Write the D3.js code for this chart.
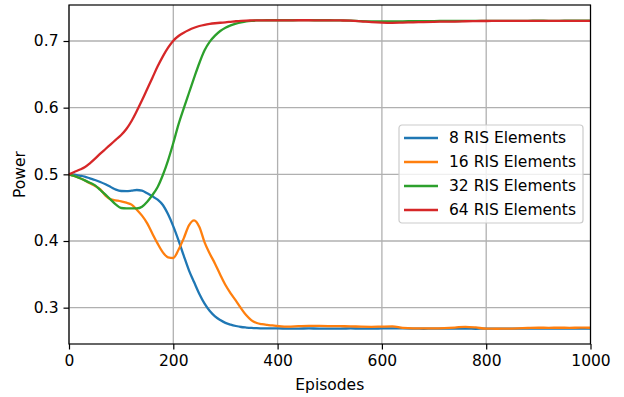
<!DOCTYPE html>
<html>
<head>
<meta charset="utf-8">
<script src="https://cdn.jsdelivr.net/npm/d3@7"></script>
<style>
  body { margin: 0; background: #fff; }
  svg { font-family: 'DejaVu Sans', sans-serif; }
</style>
</head>
<body>
<svg width="624" height="397"></svg>
<script>
// episodes shared by every series (step 10 up to 400, then step 20)
const episodes = d3.range(0, 400, 10).concat(d3.range(400, 1001, 20));

const seriesNames = ['8 RIS Elements', '16 RIS Elements', '32 RIS Elements', '64 RIS Elements'];
const colors = ['#1f77b4', '#ff7f0e', '#2ca02c', '#d62728'];

const ris8 = [
  0.500, 0.4995, 0.498, 0.4965, 0.494, 0.4915, 0.4885, 0.485, 0.481, 0.477,
  0.475, 0.4748, 0.4755, 0.4765, 0.4755, 0.4715, 0.467, 0.462, 0.454, 0.440,
  0.422, 0.401, 0.378, 0.356, 0.338, 0.3205, 0.306, 0.295, 0.287, 0.2815,
  0.2772, 0.2745, 0.2725, 0.271, 0.2702, 0.2696, 0.2692, 0.269, 0.2688, 0.2688,
  0.2688, 0.2687, 0.2687, 0.2688, 0.2687, 0.2686, 0.2687, 0.2688, 0.2687, 0.2686,
  0.2688, 0.269, 0.2688, 0.2685, 0.2684, 0.2685, 0.2686, 0.2686, 0.2685, 0.2684,
  0.2685, 0.2686, 0.2686, 0.2685, 0.2686, 0.2686, 0.2686, 0.2687, 0.2686, 0.2687,
  0.2687
];

const ris16 = [
  0.500, 0.4975, 0.4945, 0.491, 0.4865, 0.4825, 0.4775, 0.468, 0.4625, 0.461,
  0.4595, 0.4575, 0.4545, 0.447, 0.438, 0.4265, 0.411, 0.396, 0.383, 0.3755,
  0.3745, 0.387, 0.404, 0.4235, 0.431, 0.421, 0.398, 0.381, 0.366, 0.3495,
  0.334, 0.3215, 0.3105, 0.299, 0.2885, 0.281, 0.277, 0.2752, 0.2741, 0.2733,
  0.2725, 0.2715, 0.2722, 0.2728, 0.2726, 0.2723, 0.2722, 0.272, 0.2715, 0.2713,
  0.2716, 0.2718, 0.2696, 0.2689, 0.269, 0.269, 0.2694, 0.2702, 0.2713, 0.2703,
  0.2685, 0.2684, 0.2685, 0.2689, 0.2695, 0.2699, 0.2698, 0.2699, 0.2698, 0.270,
  0.2699
];

const ris32 = [
  0.500, 0.4975, 0.4945, 0.491, 0.4875, 0.4835, 0.4765, 0.4695, 0.462, 0.4545,
  0.4495, 0.449, 0.449, 0.449, 0.4515, 0.459, 0.469, 0.481, 0.499, 0.521,
  0.547, 0.575, 0.599, 0.622, 0.645, 0.667, 0.686, 0.699, 0.708, 0.715,
  0.720, 0.7235, 0.726, 0.728, 0.7295, 0.7303, 0.7308, 0.731, 0.7311, 0.7311,
  0.7311, 0.7311, 0.7312, 0.7312, 0.7311, 0.7311, 0.731, 0.7306, 0.7298, 0.7295,
  0.7293, 0.7293, 0.7295, 0.7297, 0.7298, 0.7299, 0.730, 0.730, 0.7301, 0.7302,
  0.7302, 0.7303, 0.7303, 0.7303, 0.7303, 0.7304, 0.7303, 0.7303, 0.7304, 0.7304,
  0.7304
];

const ris64 = [
  0.500, 0.5035, 0.5068, 0.5105, 0.5165, 0.5235, 0.531, 0.538, 0.545, 0.552,
  0.559, 0.568, 0.580, 0.595, 0.611, 0.628, 0.645, 0.662, 0.677, 0.690,
  0.7005, 0.7075, 0.7125, 0.7165, 0.7198, 0.7225, 0.7243, 0.7256, 0.7266, 0.7274,
  0.728, 0.7288, 0.7296, 0.7302, 0.7306, 0.7308, 0.731, 0.731, 0.731, 0.731,
  0.731, 0.731, 0.7311, 0.7311, 0.731, 0.731, 0.7308, 0.7305, 0.7295, 0.7283,
  0.7275, 0.7272, 0.7276, 0.728, 0.7284, 0.7288, 0.729, 0.7292, 0.7296, 0.7299,
  0.730, 0.7301, 0.7301, 0.7301, 0.7302, 0.7302, 0.7302, 0.7302, 0.7302, 0.7303,
  0.7303
];

const xTicks = [0, 200, 400, 600, 800, 1000];
const yTicks = [0.3, 0.4, 0.5, 0.6, 0.7];

const allSeries = [ris8, ris16, ris32, ris64];

const svg = d3.select('svg');
const margin = { top: 5, right: 33.5, bottom: 53, left: 69 };
const width = 624 - margin.left - margin.right;
const height = 397 - margin.top - margin.bottom;

const x = d3.scaleLinear().domain([0, 1000]).range([0, width]);
const y = d3.scaleLinear().domain([0.2455, 0.754]).range([height, 0]);

const g = svg.append('g').attr('transform', `translate(${margin.left},${margin.top})`);

// grid
g.selectAll('.vgrid')
  .data(xTicks)
  .enter()
  .append('line')
  .attr('x1', (d) => x(d))
  .attr('x2', (d) => x(d))
  .attr('y1', 0)
  .attr('y2', height)
  .attr('stroke', '#b0b0b0')
  .attr('stroke-width', 1.3);

g.selectAll('.hgrid')
  .data(yTicks)
  .enter()
  .append('line')
  .attr('x1', 0)
  .attr('x2', width)
  .attr('y1', (d) => y(d))
  .attr('y2', (d) => y(d))
  .attr('stroke', '#b0b0b0')
  .attr('stroke-width', 1.3);

// lines
const line = d3
  .line()
  .x((d, i) => x(episodes[i]))
  .y((d) => y(d))
  .curve(d3.curveMonotoneX);

g.selectAll('.series')
  .data(allSeries)
  .enter()
  .append('path')
  .attr('d', line)
  .attr('fill', 'none')
  .attr('stroke', (d, i) => colors[i])
  .attr('stroke-width', 2.3)
  .attr('stroke-linejoin', 'round');

// axes
const xAxis = g
  .append('g')
  .attr('transform', `translate(0,${height})`)
  .call(d3.axisBottom(x).tickValues(xTicks).tickSize(5.5).tickPadding(5).tickFormat(d3.format('d')));

const yAxis = g
  .append('g')
  .call(d3.axisLeft(y).tickValues(yTicks).tickSize(5.5).tickPadding(5).tickFormat(d3.format('.1f')));

[xAxis, yAxis].forEach((ax) => {
  ax.select('.domain').remove();
  ax.selectAll('line').attr('stroke', '#000').attr('stroke-width', 1.2);
  ax.selectAll('text').attr('font-size', '15.5px').attr('fill', '#000').attr('font-family', 'DejaVu Sans');
});

// frame
g.append('rect')
  .attr('width', width)
  .attr('height', height)
  .attr('fill', 'none')
  .attr('stroke', '#000')
  .attr('stroke-width', 1.2);

// axis labels
svg.append('text')
  .attr('x', margin.left + width / 2)
  .attr('y', 390)
  .attr('text-anchor', 'middle')
  .attr('font-size', '15.5px')
  .text('Episodes');

svg.append('text')
  .attr('transform', `translate(25,${margin.top + height / 2}) rotate(-90)`)
  .attr('text-anchor', 'middle')
  .attr('font-size', '15.5px')
  .text('Power');

// legend
const legend = svg.append('g').attr('transform', 'translate(399,125)');

legend.append('rect')
  .attr('width', 184)
  .attr('height', 98)
  .attr('rx', 3)
  .attr('fill', '#fff')
  .attr('fill-opacity', 0.8)
  .attr('stroke', '#cccccc')
  .attr('stroke-width', 1.2);

const items = legend
  .selectAll('.item')
  .data(seriesNames)
  .enter()
  .append('g')
  .attr('transform', (d, i) => `translate(0,${13 + i * 24})`);

items.append('line')
  .attr('x1', 5)
  .attr('x2', 39)
  .attr('stroke', (d, i) => colors[i])
  .attr('stroke-width', 2.3);

items.append('text')
  .attr('x', 50)
  .attr('dy', '0.35em')
  .attr('font-size', '15.5px')
  .text((d) => d);
</script>
</body>
</html>
